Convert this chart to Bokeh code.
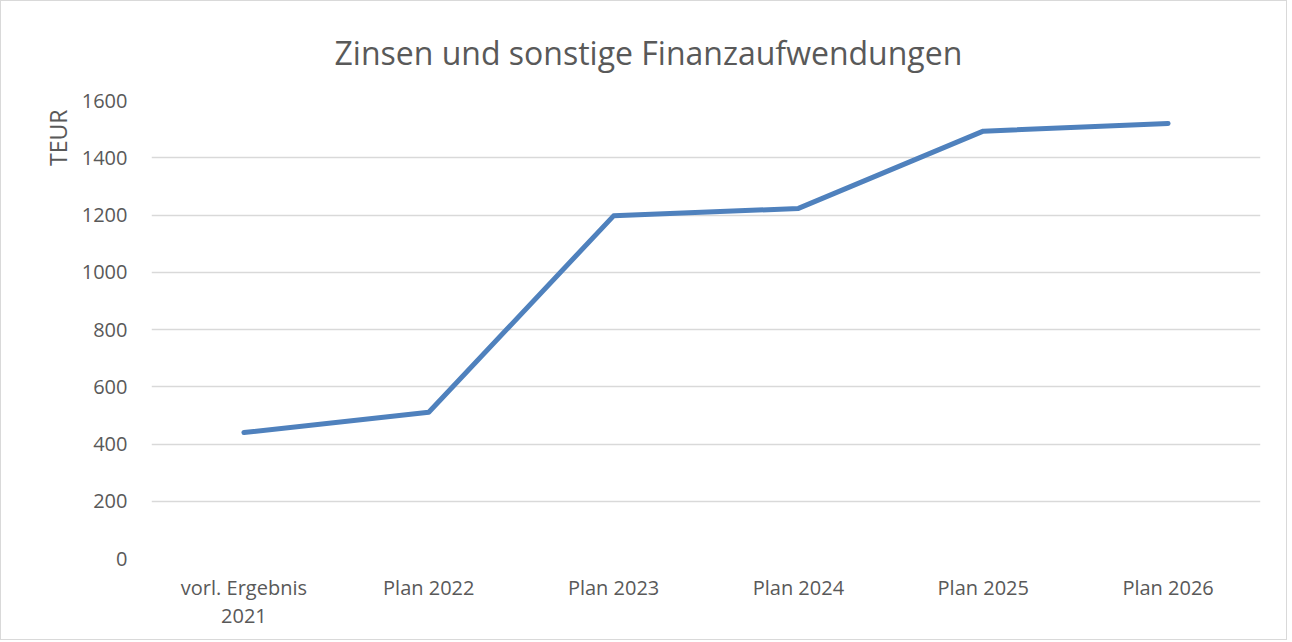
from bokeh.plotting import figure
from bokeh.models import Title, FactorRange
from bokeh.embed import file_html
from bokeh.resources import INLINE

categories = ["vorl. Ergebnis\n2021", "Plan 2022", "Plan 2023", "Plan 2024", "Plan 2025", "Plan 2026"]
values = [440, 511, 1197, 1223, 1493, 1520]
y_ticks = [0, 200, 400, 600, 800, 1000, 1200, 1400, 1600]
title_text = "Zinsen und sonstige Finanzaufwendungen"
y_label = "TEUR"

FONT = "Open Sans"
TXT = "#595959"

p = figure(x_range=FactorRange(*categories), y_range=(0, 1600),
           width=1287, height=640, output_backend="svg", toolbar_location=None,
           min_border_left=150, min_border_right=28, min_border_top=99, min_border_bottom=83)

p.line(categories, values, line_color="#4f81bd", line_width=5, line_join="round", line_cap="round")

p.title.text = title_text
p.title.align = "left"
p.title.offset = 183
p.title.standoff = 54
p.title.text_font = FONT
p.title.text_font_size = "32px"
p.title.text_font_style = "normal"
p.title.text_color = TXT

p.add_layout(Title(text=y_label, align="right", offset=9, text_font=FONT, text_font_size="23px",
                   text_font_style="normal", text_color=TXT), "left")

p.yaxis.ticker = y_ticks
p.yaxis.axis_line_color = None
p.yaxis.major_tick_line_color = None
p.yaxis.minor_tick_line_color = None
p.yaxis.major_label_standoff = 18
p.yaxis.major_label_text_font = FONT
p.yaxis.major_label_text_font_size = "20px"
p.yaxis.major_label_text_color = TXT

p.xaxis.axis_line_color = None
p.xaxis.major_tick_line_color = None
p.xaxis.minor_tick_line_color = None
p.xaxis.major_label_standoff = 9
p.xaxis.major_label_text_font = FONT
p.xaxis.major_label_text_font_size = "20px"
p.xaxis.major_label_text_line_height = 1.07
p.xaxis.major_label_text_color = TXT

p.xgrid.grid_line_color = None
p.ygrid.grid_line_color = "#d9d9d9"
p.ygrid.grid_line_width = 1.5
p.outline_line_color = None
p.styles = {"border": "1px solid #d9d9d9"}

open("out.html", "w").write(file_html(p, INLINE))
